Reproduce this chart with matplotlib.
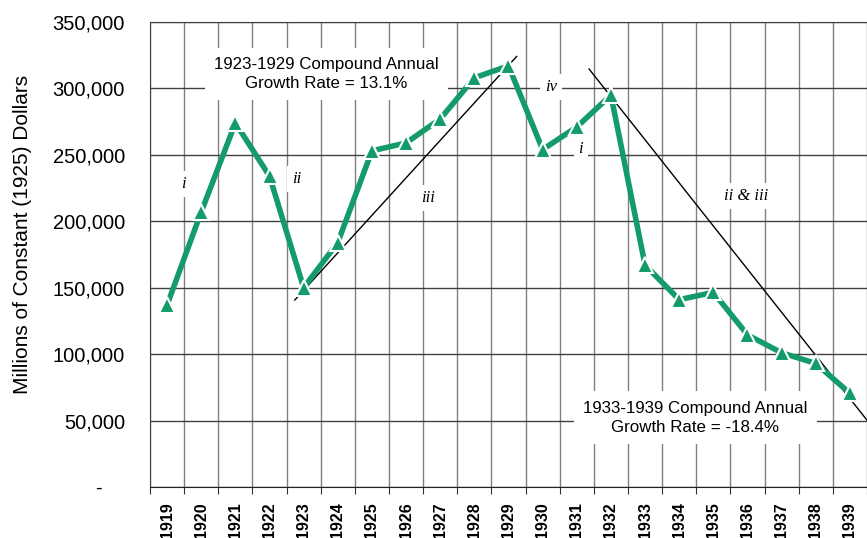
import matplotlib.pyplot as plt
import numpy as np

# data
years = [str(y) for y in range(1919, 1940)]
values = [137000, 207000, 274000, 234000, 150000, 184000, 253000, 259000, 277000,
          308000, 317000, 254000, 271000, 295000, 167000, 141000, 146500, 114500,
          101000, 93000, 70500]

# compound growth trend lines (index of year, value)
trend_up_x = [3.74, 10.24]
trend_up_y = [140700, 324100]
trend_down_x = [12.36, 20.5]
trend_down_y = [314600, 50300]

wave_labels = ['i', 'ii', 'iii', 'iv', 'i', 'ii & iii']
wave_x = [0.48, 3.79, 7.64, 11.25, 12.12, 16.96]
wave_y = [227700, 231500, 217700, 300800, 254700, 218900]

green = '#139c6a'

fig = plt.figure(figsize=(8.67, 5.38), dpi=100)
ax = fig.add_axes([150 / 867, 1 - 487 / 538, 1 - 150 / 867, (487 - 22) / 538])

x = np.arange(len(years))
ax.set_xlim(-0.5, 20.22)
ax.set_ylim(0, 350000)

# grid
ax.set_xticks(np.arange(-0.5, 20.6, 1), minor=True)
ax.set_xticks(x)
ax.set_xticklabels(years, rotation=90, fontsize=11.5, fontweight='bold',
                   family='Liberation Sans')
ax.tick_params(axis='x', which='major', length=0, pad=11)
ax.tick_params(axis='x', which='minor', length=5, width=0.8, color='#333')
ax.grid(which='minor', axis='x', color='#808080', linewidth=1.0)
ax.set_yticks(np.arange(0, 350001, 50000))
ax.set_yticklabels(['-    '] + [f'{v:,}' for v in range(50000, 350001, 50000)],
                   fontsize=14.5, family='Liberation Sans')
ax.tick_params(axis='y', length=0, pad=18)
ax.grid(which='major', axis='y', color='#404040', linewidth=1.0)
ax.set_axisbelow(True)
ax.spines['right'].set_visible(False)
ax.spines['top'].set_color('#404040')
ax.spines['left'].set_color('#404040')
ax.spines['bottom'].set_color('#222')

ax.set_ylabel('Millions of Constant (1925) Dollars', fontsize=15,
              family='Liberation Sans')
ax.yaxis.set_label_coords(-0.165, 0.544)

# trend lines
ax.plot(trend_up_x, trend_up_y, color='black', linewidth=1.0, zorder=3)
ax.plot(trend_down_x, trend_down_y, color='black', linewidth=1.0, zorder=3)

# series
ax.plot(x, values, color=green, linewidth=4, marker='^', markersize=12,
        markerfacecolor=green, markeredgecolor='white', markeredgewidth=1.5,
        zorder=4, clip_on=False)

box = dict(facecolor='white', edgecolor='none', boxstyle='square,pad=0.55')
ax.text(4.67, 310800, '1923-1929 Compound Annual\nGrowth Rate = 13.1%',
        ha='center', va='center', fontsize=12.2, family='Liberation Sans',
        linespacing=1.35, bbox=box, zorder=2.5)
ax.text(15.47, 52000, '1933-1939 Compound Annual\nGrowth Rate = -18.4%',
        ha='center', va='center', fontsize=12.2, family='Liberation Sans',
        linespacing=1.35, bbox=box, zorder=2.5)

for lab, lx, ly in zip(wave_labels, wave_x, wave_y):
    ax.text(lx, ly, lab, ha='center', va='center', fontsize=12, style='italic',
            family='Liberation Serif', zorder=2.5,
            bbox=dict(facecolor='white', edgecolor='none', boxstyle='square,pad=0.3'))

fig.savefig('out.png', dpi=100)
